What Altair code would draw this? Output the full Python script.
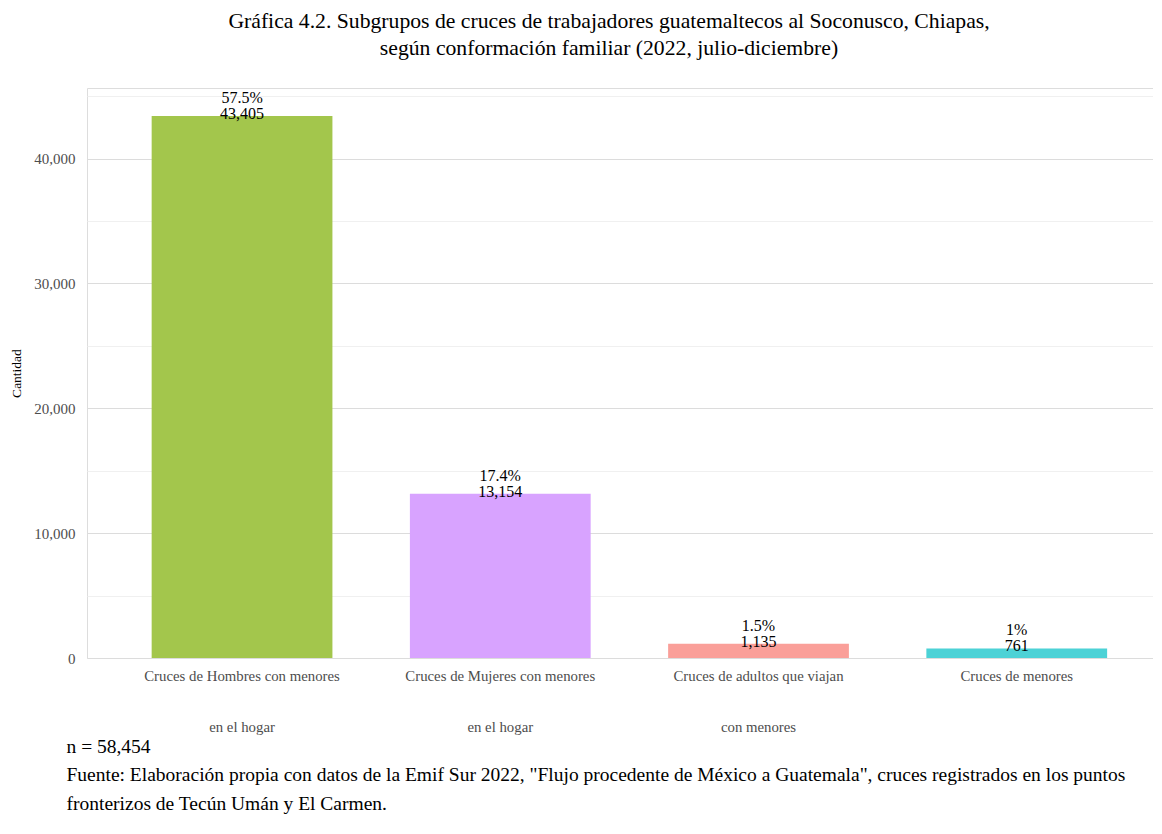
import altair as alt
import pandas as pd

categorias = [
    "Cruces de Hombres con menores\nen el hogar",
    "Cruces de Mujeres con menores\nen el hogar",
    "Cruces de adultos que viajan\ncon menores",
    "Cruces de menores",
]
cantidades = [43405, 13154, 1135, 761]
porcentajes = ["57.5%", "17.4%", "1.5%", "1%"]
colores = ["#A3C64C", "#D8A3FF", "#FA9F99", "#4CD2D6"]
ticks_y = [0, 5000, 10000, 15000, 20000, 25000, 30000, 35000, 40000, 45000]

titulo = [
    "Gráfica 4.2. Subgrupos de cruces de trabajadores guatemaltecos al Soconusco, Chiapas,",
    "según conformación familiar (2022, julio-diciembre)",
]
nota = [
    "n = 58,454",
    "Fuente: Elaboración propia con datos de la Emif Sur 2022, \"Flujo procedente de México a Guatemala\", cruces registrados en los puntos",
    "fronterizos de Tecún Umán y El Carmen.",
]

FONT = "Liberation Serif"

df = pd.DataFrame({
    "cat": categorias,
    "n": cantidades,
    "pct": porcentajes,
})
df["label"] = [p + "\n" + f"{v:,}" for p, v in zip(porcentajes, cantidades)]

x_enc = alt.X(
    "cat:N",
    sort=categorias,
    scale=alt.Scale(paddingInner=0.3, paddingOuter=0.214, align=0.585),
    axis=alt.Axis(
        labelExpr="split(datum.label, '\\n')",
        labelLineHeight=51,
        labelFontSize=14.8,
        labelFont=FONT,
        labelColor="#4D4D4D",
        labelPadding=10,
        labelAngle=0,
        labelLimit=0,
        ticks=False,
        domain=False,
        grid=False,
        title=nota,
        titleFont=FONT,
        titleFontSize=19.5,
        titleFontWeight="normal",
        titleColor="black",
        titleLineHeight=28.5,
        titleAnchor="start",
        titleAlign="left",
        titleBaseline="alphabetic",
        titleX=-21,
        titleY=94,
    ),
)

y_enc = alt.Y(
    "n:Q",
    scale=alt.Scale(domain=[0, 45650], nice=False, zero=True),
    axis=alt.Axis(
        values=ticks_y,
        labelExpr="datum.value % 10000 === 0 ? format(datum.value, ',') : ''",
        labelFontSize=15,
        labelFont=FONT,
        labelColor="#4D4D4D",
        labelPadding=12,
        ticks=False,
        domain=False,
        gridColor={"condition": {"test": "datum.value % 10000 === 0", "value": "#DCDCDC"}, "value": "#F0F0F0"},
        gridWidth=1,
        title="Cantidad",
        titleFont=FONT,
        titleFontSize=13.5,
        titleFontWeight="normal",
        titleColor="black",
        titlePadding=10,
    ),
)

base = alt.Chart(df).encode(x=x_enc)

bars = base.mark_bar().encode(
    y=y_enc,
    color=alt.Color("cat:N", scale=alt.Scale(domain=categorias, range=colores), legend=None),
)

text = base.mark_text(
    baseline="alphabetic",
    dy=-13,
    fontSize=16,
    lineHeight=16,
    font=FONT,
    color="black",
    lineBreak="\n",
).encode(y=alt.Y("n:Q"), text="label:N")

chart = alt.layer(bars, text).properties(
    width=1066,
    height=570,
    title=alt.TitleParams(
        text=titulo,
        font=FONT,
        fontSize=21.7,
        fontWeight="normal",
        color="black",
        lineHeight=27,
        anchor="middle",
        frame="group",
        offset=28,
        dx=-11,
    ),
    padding={"left": 79, "top": 80, "right": 0, "bottom": 175},
    autosize=alt.AutoSizeParams(type="none"),
).configure_view(stroke=None).configure(background="white")

chart.save("out.html", embed_options={"renderer": "svg", "actions": False})
